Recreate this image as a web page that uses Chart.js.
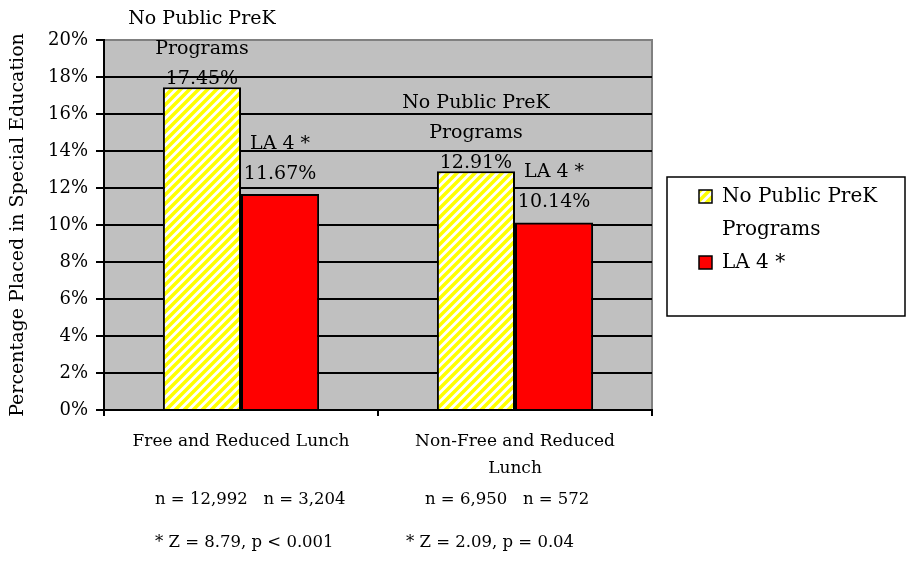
<!DOCTYPE html>
<html>
<head>
<meta charset="utf-8">
<script src="https://cdn.jsdelivr.net/npm/chart.js@4.4.0/dist/chart.umd.min.js"></script>
<style>
  body { margin: 0; background: #fff; }
  #wrap { width: 908px; height: 571px; }
</style>
</head>
<body>
<div id="wrap"><canvas id="chart" width="908" height="571"></canvas></div>
<script>
// Values
const categories = [['Free and Reduced Lunch'], ['Non-Free and Reduced', 'Lunch']];
const seriesNames = [['No Public PreK', 'Programs'], ['LA 4 *']];
const noPreK = [17.45, 12.91];
const la4 = [11.67, 10.14];
const yTicks = [0, 2, 4, 6, 8, 10, 12, 14, 16, 18, 20];
const sampleSizes = ['n = 12,992   n = 3,204', 'n = 6,950   n = 572'];
const zTests = ['* Z = 8.79, p < 0.001', '* Z = 2.09, p = 0.04'];

const FONT = '"DejaVu Serif", "Liberation Serif", serif';

// yellow / white diagonal hatch used for the "No Public PreK" bars
function makeHatch() {
    const c = document.createElement('canvas');
    c.width = 9; c.height = 9;
    const g = c.getContext('2d');
    g.fillStyle = '#fff';
    g.fillRect(0, 0, 9, 9);
    g.strokeStyle = '#FFFF00';
    g.lineWidth = 3.5;
    g.beginPath();
    g.moveTo(-3, 12); g.lineTo(12, -3);
    g.moveTo(-3, 3); g.lineTo(3, -3);
    g.moveTo(6, 12); g.lineTo(12, 6);
    g.stroke();
    return g.createPattern(c, 'repeat');
}
const hatch = makeHatch();
const fills = [hatch, '#FF0000'];

// gray plot area with its dark gray top/right frame
const plotBackground = {
    id: 'plotBackground',
    beforeDraw(chart) {
        const { ctx, chartArea: a } = chart;
        ctx.save();
        ctx.fillStyle = '#C0C0C0';
        ctx.fillRect(a.left, a.top, a.right - a.left, a.bottom - a.top);
        ctx.strokeStyle = '#808080';
        ctx.lineWidth = 2;
        ctx.beginPath();
        ctx.moveTo(a.left, a.top);
        ctx.lineTo(a.right, a.top);
        ctx.lineTo(a.right, a.bottom);
        ctx.stroke();
        ctx.restore();
    }
};

// series name + value above every bar
const labelGap = [8, 20];
const labelLine = 30;
const barLabels = {
    id: 'barLabels',
    afterDatasetsDraw(chart) {
        const ctx = chart.ctx;
        ctx.save();
        ctx.font = '19px ' + FONT;
        ctx.fillStyle = '#000';
        ctx.textAlign = 'center';
        ctx.textBaseline = 'middle';
        chart.data.datasets.forEach((ds, i) => {
            chart.getDatasetMeta(i).data.forEach((bar, j) => {
                const lines = seriesNames[i].concat([ds.data[j].toFixed(2) + '%']);
                lines.forEach((t, k) => {
                    ctx.fillText(t, bar.x, bar.y - labelGap[i] - (lines.length - 1 - k) * labelLine);
                });
            });
        });
        ctx.restore();
    }
};

// boxed legend on the right and the sample-size / z-test notes below
const legendBox = { x: 667, y: 177, w: 238, h: 139 };
const notesX = [[155, 425], [155, 406]];
const notesY = [500, 543];
const extras = {
    id: 'extras',
    afterDraw(chart) {
        const ctx = chart.ctx;
        ctx.save();
        ctx.strokeStyle = '#000';
        ctx.lineWidth = 1.5;
        ctx.strokeRect(legendBox.x, legendBox.y, legendBox.w, legendBox.h);

        ctx.font = '20px ' + FONT;
        ctx.textAlign = 'left';
        ctx.textBaseline = 'middle';
        ctx.fillStyle = '#000';
        let y = 197;
        seriesNames.forEach((lines, i) => {
            ctx.fillStyle = fills[i];
            ctx.fillRect(699, y - 7, 13, 13);
            ctx.strokeRect(699, y - 7, 13, 13);
            ctx.fillStyle = '#000';
            lines.forEach(t => {
                ctx.fillText(t, 722, y);
                y += 33;
            });
        });

        ctx.font = '16.5px ' + FONT;
        sampleSizes.forEach((t, i) => ctx.fillText(t, notesX[0][i], notesY[0]));
        zTests.forEach((t, i) => ctx.fillText(t, notesX[1][i], notesY[1]));
        ctx.restore();
    }
};

new Chart(document.getElementById('chart'), {
    type: 'bar',
    data: {
        labels: categories,
        datasets: [
            { label: seriesNames[0].join(' '), data: noPreK, backgroundColor: hatch, borderColor: '#000', borderWidth: 2 },
            { label: seriesNames[1].join(' '), data: la4, backgroundColor: '#FF0000', borderColor: '#000', borderWidth: 2 }
        ]
    },
    options: {
        responsive: false,
        animation: false,
        devicePixelRatio: 1,
        layout: { padding: { top: 40, right: 256, left: 0, bottom: 0 } },
        datasets: { bar: { categoryPercentage: 0.57, barPercentage: 1 } },
        plugins: { legend: { display: false }, tooltip: { enabled: false } },
        scales: {
            x: {
                afterFit(s) { s.height = 161; },
                grid: { drawOnChartArea: false, offset: true, color: '#000', lineWidth: 2, tickLength: 6 },
                border: { color: '#000', width: 2 },
                ticks: { color: '#000', padding: 12, maxRotation: 0, font: { family: FONT, size: 17, lineHeight: 1.6 } }
            },
            y: {
                min: 0,
                max: 20,
                afterFit(s) { s.width = 104; },
                afterBuildTicks(s) { s.ticks = yTicks.map(v => ({ value: v })); },
                grid: {
                    color: c => (c.tick && c.tick.value === 20 ? '#808080' : '#000'),
                    tickColor: '#000',
                    lineWidth: 2,
                    tickLength: 8
                },
                border: { color: '#000', width: 2 },
                ticks: { color: '#000', padding: 8, font: { family: FONT, size: 18 }, callback: v => v + '%' },
                title: {
                    display: true,
                    text: 'Percentage Placed in Special Education',
                    color: '#000',
                    padding: { top: 7, bottom: 0 },
                    font: { family: FONT, size: 19 }
                }
            }
        }
    },
    plugins: [plotBackground, barLabels, extras]
});
</script>
</body>
</html>
